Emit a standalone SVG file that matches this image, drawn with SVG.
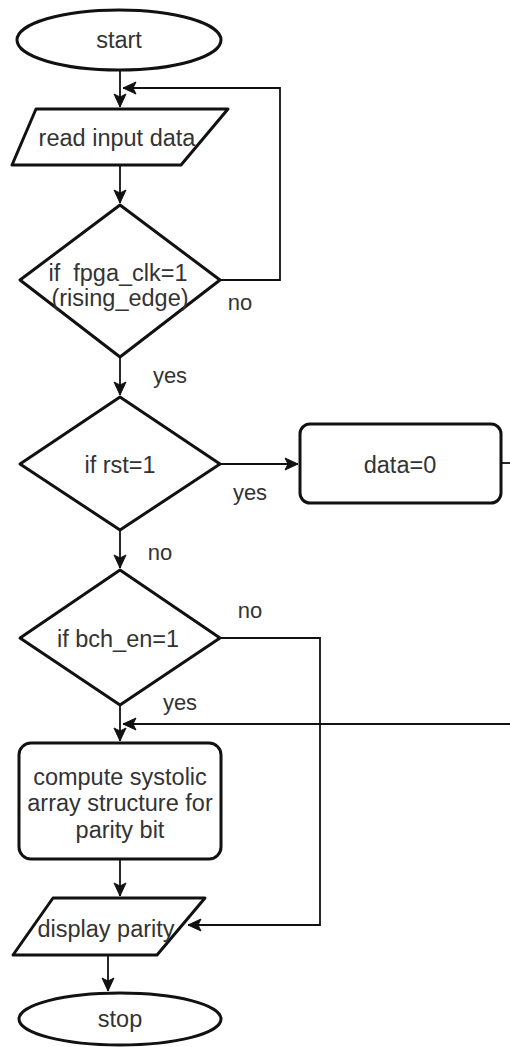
<svg xmlns="http://www.w3.org/2000/svg" width="510" height="1047" viewBox="0 0 510 1047">
  <style>
    .shape { fill: #ffffff; stroke: #111111; stroke-width: 3; stroke-linejoin: round; }
    .edge { fill: none; stroke: #111111; stroke-width: 1.8; }
    text { font-family: "Liberation Sans", Arial, sans-serif; font-size: 23.5px; fill: #333333; text-anchor: middle; }
    .lbl { font-size: 22px; }
  </style>
  <defs>
    <marker id="arrow" markerUnits="userSpaceOnUse" markerWidth="16" markerHeight="14" viewBox="-14 -7 16 14" refX="0" refY="0" orient="auto">
      <path d="M0,0 L-13,-6 L-10,0 L-13,6 Z" fill="#111111" stroke="#111111" stroke-width="1"/>
    </marker>
  </defs>

  <rect width="510" height="1047" fill="#ffffff"/>

  <!-- connectors and their labels -->
  <g id="connectors">
    <path class="edge" d="M120,70 L120,107" marker-end="url(#arrow)"/>
    <path class="edge" d="M120,165 L120,203" marker-end="url(#arrow)"/>
    <path class="edge" d="M220,280 L280,280 L280,88 L123,88" marker-end="url(#arrow)"/>
    <path class="edge" d="M120,357 L120,395" marker-end="url(#arrow)"/>
    <path class="edge" d="M220,464 L298,464" marker-end="url(#arrow)"/>
    <path class="edge" d="M501,463 L512,463"/>
    <path class="edge" d="M120,530 L120,568" marker-end="url(#arrow)"/>
    <path class="edge" d="M120,705 L120,741" marker-end="url(#arrow)"/>
    <path class="edge" d="M512,724 L123,724" marker-end="url(#arrow)"/>
    <path class="edge" d="M220,638 L320,638 L320,925 L188,925" marker-end="url(#arrow)"/>
    <path class="edge" d="M120,859 L120,896" marker-end="url(#arrow)"/>
    <path class="edge" d="M108,955 L108,991" marker-end="url(#arrow)"/>

    <text class="lbl" x="240" y="310">no</text>
    <text class="lbl" x="170" y="383">yes</text>
    <text class="lbl" x="250" y="500">yes</text>
    <text class="lbl" x="160" y="560">no</text>
    <text class="lbl" x="250" y="618">no</text>
    <text class="lbl" x="180" y="710">yes</text>
  </g>

  <g id="start">
    <ellipse class="shape" cx="119" cy="40" rx="102" ry="30"/>
    <text x="119" y="48">start</text>
  </g>

  <g id="read-input">
    <polygon class="shape" points="36,109 228,109 181,165 12,165"/>
    <text x="117" y="146">read input data</text>
  </g>

  <g id="check-clk">
    <polygon class="shape" points="120,205 220,280 120,357 20,280"/>
    <text x="118" y="281" xml:space="preserve">if  fpga_clk=1</text>
    <text x="120" y="306">(rising_edge)</text>
  </g>

  <g id="check-rst">
    <polygon class="shape" points="120,397 220,464 120,530 20,464"/>
    <text x="120" y="473">if rst=1</text>
  </g>

  <g id="clear-data">
    <rect class="shape" x="300" y="424" width="201" height="79" rx="10"/>
    <text x="400" y="473">data=0</text>
  </g>

  <g id="check-bch-en">
    <polygon class="shape" points="120,570 220,638 120,705 20,638"/>
    <text x="118" y="647">if bch_en=1</text>
  </g>

  <g id="compute">
    <rect class="shape" x="19" y="743" width="202" height="116" rx="12"/>
    <text x="120" y="785">compute systolic</text>
    <text x="120" y="811">array structure for</text>
    <text x="120" y="838">parity bit</text>
  </g>

  <g id="display-parity">
    <polygon class="shape" points="53,898 205,898 157,955 13,955"/>
    <text x="106" y="937">display parity</text>
  </g>

  <g id="stop">
    <ellipse class="shape" cx="120" cy="1019" rx="101" ry="26"/>
    <text x="120" y="1027">stop</text>
  </g>
</svg>
